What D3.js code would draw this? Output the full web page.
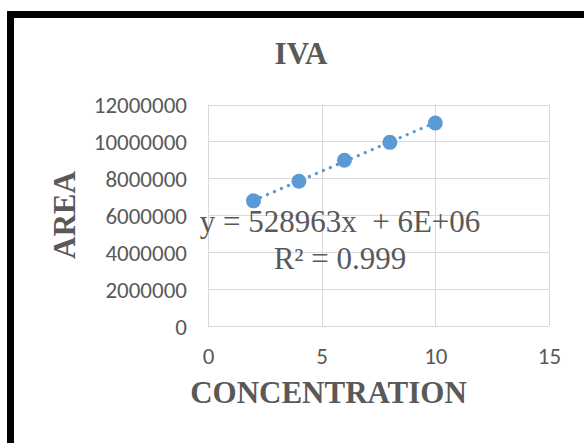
<!DOCTYPE html>
<html><head><meta charset="utf-8">
<script src="https://cdn.jsdelivr.net/npm/d3@7"></script>
<style>
html,body{margin:0;padding:0;background:#fff;}
svg{display:block;}
</style></head>
<body>
<svg id="chart" width="584" height="443"></svg>
<script>
const concentration = [2, 4, 6, 8, 10];
const area = [6780000, 7840000, 8980000, 9950000, 11000000];
const xTicks = [0, 5, 10, 15];
const yTicks = [0, 2000000, 4000000, 6000000, 8000000, 10000000, 12000000];
const chartTitle = "IVA";
const xTitle = "CONCENTRATION";
const yTitle = "AREA";
const equationLines = ["y = 528963x\u00a0\u00a0+ 6E+06", "R\u00b2 = 0.999"];

const svg = d3.select("#chart");
const gray = "#595959";
const tickFont = "Carlito, Calibri, Lato, 'Liberation Sans', sans-serif";
const serif = "'Liberation Serif', 'Times New Roman', serif";

// frame
svg.append("rect").attr("x", 10.5).attr("y", 14.5).attr("width", 620).attr("height", 460)
  .attr("fill", "#fff").attr("stroke", "#000").attr("stroke-width", 7);

const x = d3.scaleLinear().domain([0, 15]).range([208, 549]);
const y = d3.scaleLinear().domain([0, 12000000]).range([326, 104.5]);

// gridlines
const grid = svg.append("g");
grid.selectAll("line.h").data(yTicks).join("line")
  .attr("x1", x(0)).attr("x2", x(15))
  .attr("y1", d => Math.round(y(d)) + 0.5).attr("y2", d => Math.round(y(d)) + 0.5)
  .attr("stroke", "#d9d9d9").attr("stroke-width", 1);
grid.selectAll("line.v").data(xTicks).join("line")
  .attr("y1", y(0)).attr("y2", y(12000000))
  .attr("x1", d => Math.round(x(d)) + 0.5).attr("x2", d => Math.round(x(d)) + 0.5)
  .attr("stroke", "#d9d9d9").attr("stroke-width", 1);

// axes (labels only)
const yAxis = svg.append("g").attr("transform", "translate(187,0)")
  .call(d3.axisLeft(y).tickValues(yTicks).tickSize(0).tickPadding(0).tickFormat(d3.format("d")));
yAxis.select(".domain").remove();
yAxis.selectAll("text").attr("fill", gray).style("font-family", tickFont).style("font-weight", "300").style("font-size", "23px").attr("dy", "0.35em");

const xAxis = svg.append("g").attr("transform", "translate(0,344)")
  .call(d3.axisBottom(x).tickValues(xTicks).tickSize(0).tickPadding(0).tickFormat(d3.format("d")));
xAxis.select(".domain").remove();
xAxis.selectAll("text").attr("fill", gray).style("font-family", tickFont).style("font-weight", "300").style("font-size", "23px").attr("dy", "0.85em");

// trendline (least squares)
const mx = d3.mean(concentration), my = d3.mean(area);
const slope = d3.sum(concentration.map((c, i) => (c - mx) * (area[i] - my))) / d3.sum(concentration.map(c => (c - mx) ** 2));
const intercept = my - slope * mx;
const x0 = d3.min(concentration), x1 = d3.max(concentration);
svg.append("line")
  .attr("x1", x(x0)).attr("y1", y(intercept + slope * x0))
  .attr("x2", x(x1)).attr("y2", y(intercept + slope * x1))
  .attr("stroke", "#5b9bd5").attr("stroke-width", 3.2)
  .attr("stroke-linecap", "round").attr("stroke-dasharray", "0.1 7.5");

// points
svg.append("g").selectAll("circle").data(concentration).join("circle")
  .attr("cx", d => x(d)).attr("cy", (d, i) => y(area[i])).attr("r", 7.5)
  .attr("fill", "#5b9bd5");

// equation
svg.append("g").selectAll("text").data(equationLines).join("text")
  .attr("x", 340).attr("y", (d, i) => 231.5 + i * 37)
  .attr("text-anchor", "middle").attr("fill", gray)
  .style("font-family", serif).style("font-size", "31px")
  .text(d => d);

// titles
svg.append("text").attr("x", 301).attr("y", 64).attr("text-anchor", "middle")
  .attr("fill", gray).style("font-family", serif).style("font-weight", "bold").style("font-size", "31px")
  .text(chartTitle);
svg.append("text").attr("x", 328.5).attr("y", 403).attr("text-anchor", "middle")
  .attr("fill", gray).style("font-family", serif).style("font-weight", "bold").style("font-size", "31px")
  .text(xTitle);
svg.append("text").attr("transform", "translate(75,215) rotate(-90)").attr("text-anchor", "middle")
  .attr("fill", gray).style("font-family", serif).style("font-weight", "bold").style("font-size", "31px")
  .text(yTitle);
</script>
</body></html>
